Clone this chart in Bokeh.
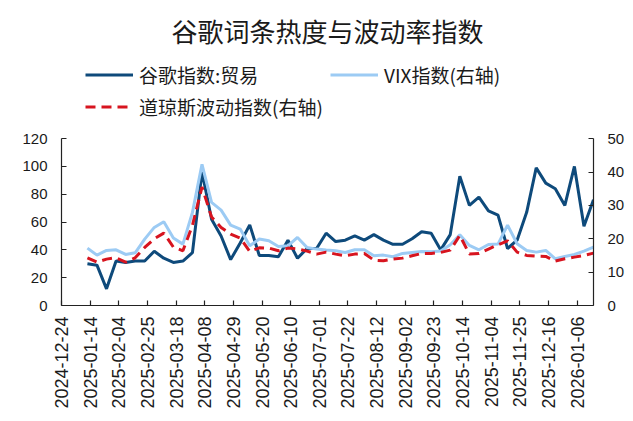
import numpy as np
import pandas as pd
from bokeh.plotting import figure
from bokeh.layouts import column
from bokeh.models import (Range1d, LinearAxis, FixedTicker, DatetimeTickFormatter,
                          Legend, LegendItem, ColumnDataSource)
from bokeh.embed import file_html
from bokeh.resources import INLINE

# ---- data ----
start_date = "2025-01-12"
n_weeks = 54
dates = pd.date_range(start_date, periods=n_weeks, freq="7D")

google_trade = [30, 29, 12, 32, 31, 32, 32, 39, 34, 31, 32, 38, 96, 62, 50, 33, 45, 58,
                36, 36, 35, 47, 34, 41, 41, 52, 46, 47, 50, 47, 51, 47, 44, 44, 48, 53,
                52, 40, 51, 93, 72, 78, 68, 65, 41, 47, 67, 99, 88, 84, 72, 100, 57, 76]

vix = [17.2, 15.1, 16.5, 16.7, 15.3, 15.8, 19.9, 23.4, 25.1, 20.2, 18.4, 27.9, 42.3, 30.9,
       28.6, 24.1, 22.9, 17.9, 19.9, 19.4, 17.7, 17.9, 20.4, 17.4, 16.9, 16.6, 16.4, 15.9,
       16.7, 16.7, 14.9, 15.1, 14.6, 15.6, 15.9, 16.2, 16.1, 16.3, 18.2, 21.2, 18.0, 16.7,
       18.3, 18.4, 24.1, 18.5, 16.5, 16.0, 16.5, 14.0, 14.7, 15.3, 16.3, 17.5]

dj_vol = [14.3, 13.0, 13.9, 14.3, 13.0, 14.3, 17.4, 20.0, 21.7, 17.5, 16.4, 24.0, 35.5, 26.5,
          23.4, 21.4, 20.2, 16.2, 17.3, 17.2, 16.4, 17.2, 17.0, 16.3, 15.4, 16.0, 15.4, 14.9,
          15.4, 15.6, 13.6, 13.4, 13.9, 14.2, 14.9, 15.6, 15.6, 15.9, 16.6, 21.0, 15.4, 15.6,
          16.9, 18.2, 19.4, 16.0, 15.0, 14.8, 14.7, 13.3, 14.0, 14.5, 15.0, 15.7]

tick_dates = pd.date_range("2024-12-24", "2026-01-06", freq="21D")
left_ticks = [0, 20, 40, 60, 80, 100, 120]
right_ticks = [0, 10, 20, 30, 40, 50]
left_max, right_max = 120, 50

title_text = "谷歌词条热度与波动率指数"
labels = ["谷歌指数:贸易", "VIX指数(右轴)", "道琼斯波动指数(右轴)"]

# ---- style / layout ----
C_DARK = "#0E4A7B"
C_LIGHT = "#9CCBF4"
C_RED = "#D7141F"
CJK = "Noto Sans CJK SC"
NUM = "Liberation Sans"

W = 633
STRIP_H = 2
H = 421 - STRIP_H
FRAME_LEFT, FRAME_RIGHT = 61, 593
FRAME_TOP, FRAME_BOTTOM = 52, 303          # frame extends above the axes to host the legend
AXIS_TOP = 135.5                           # pixel row of the 120 / 50 ticks
stretch = (FRAME_BOTTOM - FRAME_TOP) / (FRAME_BOTTOM - AXIS_TOP)

# thin grey rule at the very top of the picture
strip = figure(width=W - 8, height=STRIP_H, output_backend="svg", toolbar_location=None,
               min_border=0, margin=(0, 0, 0, 8))
strip.axis.visible = False
strip.grid.visible = False
strip.outline_line_color = None
strip.background_fill_color = "#6f6f6f"
strip.border_fill_color = "#6f6f6f"

src = ColumnDataSource(dict(d=dates, g=google_trade, v=vix, dj=dj_vol))

p = figure(width=W, height=H, output_backend="svg", toolbar_location=None,
           x_axis_type="datetime",
           x_range=Range1d(pd.Timestamp("2024-12-24"), dates[-1]),
           y_range=Range1d(0, left_max * stretch),
           min_border_left=FRAME_LEFT, min_border_right=W - FRAME_RIGHT,
           min_border_top=FRAME_TOP, min_border_bottom=H - FRAME_BOTTOM, margin=0)
p.extra_y_ranges = {"right": Range1d(0, right_max * stretch)}
p.outline_line_color = None
p.grid.visible = False
p.background_fill_color = "white"
p.border_fill_color = "white"

p.title.text = title_text
p.title.align = "center"
p.title.offset = -7
p.title.standoff = 14
p.title.text_font = CJK
p.title.text_font_size = "26px"
p.title.text_font_style = "normal"
p.title.text_color = "#1a1a1a"

r1 = p.line("d", "g", source=src, line_color=C_DARK, line_width=3)
r2 = p.line("d", "v", source=src, line_color=C_LIGHT, line_width=3, y_range_name="right")
r3 = p.line("d", "dj", source=src, line_color=C_RED, line_width=3, line_dash="10 6",
            y_range_name="right")

# axes
xa = p.xaxis[0]
xa.ticker = FixedTicker(ticks=[t.value / 1e6 for t in tick_dates])
xa.formatter = DatetimeTickFormatter(days="%Y-%m-%d", months="%Y-%m-%d", years="%Y-%m-%d",
                                     hours="%Y-%m-%d", minutes="%Y-%m-%d")
xa.major_label_orientation = np.pi / 2
xa.major_label_standoff = 11
xa.major_label_text_font = NUM
xa.major_label_text_font_size = "18px"

ya = p.yaxis[0]
ya.ticker = FixedTicker(ticks=left_ticks)
ya.bounds = (0, left_max)
ya.major_label_standoff = 14
ya.major_label_text_font = NUM
ya.major_label_text_font_size = "15px"

ra = LinearAxis(y_range_name="right", ticker=FixedTicker(ticks=right_ticks),
                bounds=(0, right_max))
ra.major_label_standoff = 14
ra.major_label_text_font = NUM
ra.major_label_text_font_size = "15px"
p.add_layout(ra, "right")

for ax in [xa, ya, ra]:
    ax.major_tick_in = 5
    ax.major_tick_out = 0
    ax.minor_tick_line_color = None
    ax.axis_line_color = "#222222"
    ax.axis_line_width = 1.2
    ax.major_tick_line_color = "#222222"
    ax.major_tick_line_width = 1.2
    ax.major_label_text_color = "#1a1a1a"

legend = Legend(items=[LegendItem(label=labels[0], renderers=[r1]),
                       LegendItem(label=labels[1], renderers=[r2]),
                       LegendItem(label=labels[2], renderers=[r3])],
                ncols=2, orientation="horizontal",
                location=(24, 185), padding=0, margin=0, spacing=5,
                glyph_width=48, glyph_height=21, label_height=21, label_width=186,
                label_standoff=6,
                label_text_font=CJK, label_text_font_size="19px",
                label_text_color="#1a1a1a",
                border_line_color=None, background_fill_alpha=0)
p.add_layout(legend, "center")

layout = column(strip, p, spacing=0)
open("out.html", "w").write(file_html(layout, INLINE))
